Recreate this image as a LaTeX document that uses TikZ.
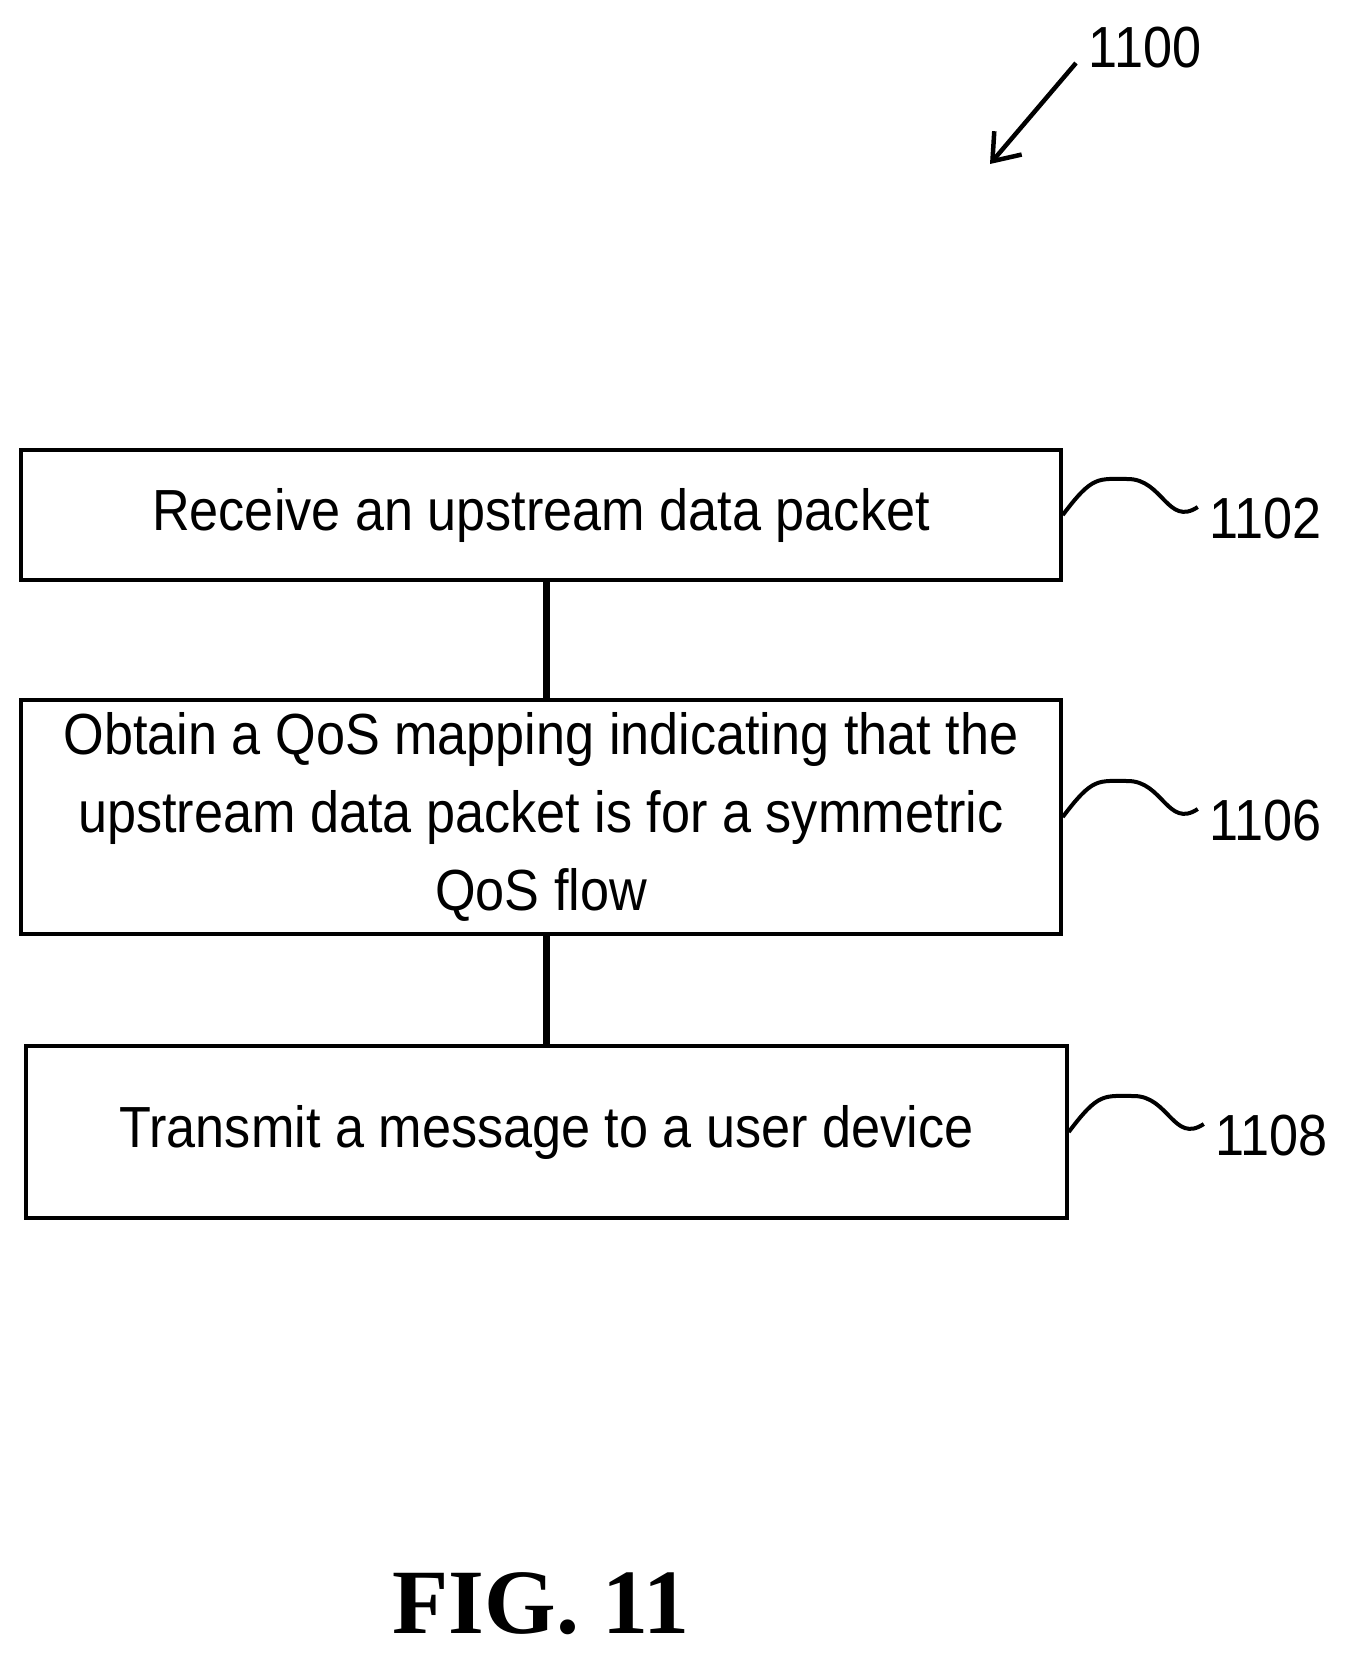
\documentclass[tikz,border=0pt]{standalone}
\usepackage{fontspec}
\usetikzlibrary{arrows.meta}
\setmainfont{Liberation Sans}[FakeStretch=0.9]
\newfontfamily\figfont{Liberation Serif}
\begin{document}
\begin{tikzpicture}[x=1pt,y=-1pt,
 box/.style={draw,line width=3.5pt,minimum height=#1,align=center,inner sep=0pt,font=\fontsize{58}{78}\selectfont},
 lbl/.style={font=\fontsize{58}{60}\selectfont,anchor=west},
 wave/.style={line width=4pt}]
\useasboundingbox (0,0) rectangle (1353,1660);
\node[box=130pt,minimum width=1040pt] (b1) at (541,515) {Receive an upstream data packet};
\node[box=234pt,minimum width=1040pt] (b2) at (541,817) {Obtain a QoS mapping indicating that the\\upstream data packet is for a symmetric\\QoS flow};
\node[box=172pt,minimum width=1041pt] (b3) at (546.5,1132) {Transmit a message to a user device};
\draw[line width=7pt] (b1.south -| 546,0) -- (b2.north -| 546,0);
\draw[line width=7pt] (b2.south -| 546,0) -- (b3.north -| 546,0);
\foreach \b/\t in {b1/1102,b2/1106,b3/1108}{
 \coordinate (s\t) at (\b.east);
 \draw[wave] (s\t) .. controls +(30,-40) and +(-30,0) .. ++(65,-36) coordinate (m\t)
   .. controls +(35,0) and +(-30,20) .. ++(70,28) coordinate (e\t);
 \node[lbl] (l\t) at ([xshift=8pt,yshift=-12pt]e\t) {\t};
}
\node[lbl,anchor=center] (l1100) at (1145,48) {1100};
\coordinate (a0) at (1076,63);
\draw[line width=4.5pt,-{Straight Barb[length=24pt,width=36pt]}] (a0) -- (990,164);
\node[font=\figfont\bfseries\fontsize{92}{100}\selectfont] (fig) at (541,1604) {FIG. 11};
\end{tikzpicture}
\end{document}
